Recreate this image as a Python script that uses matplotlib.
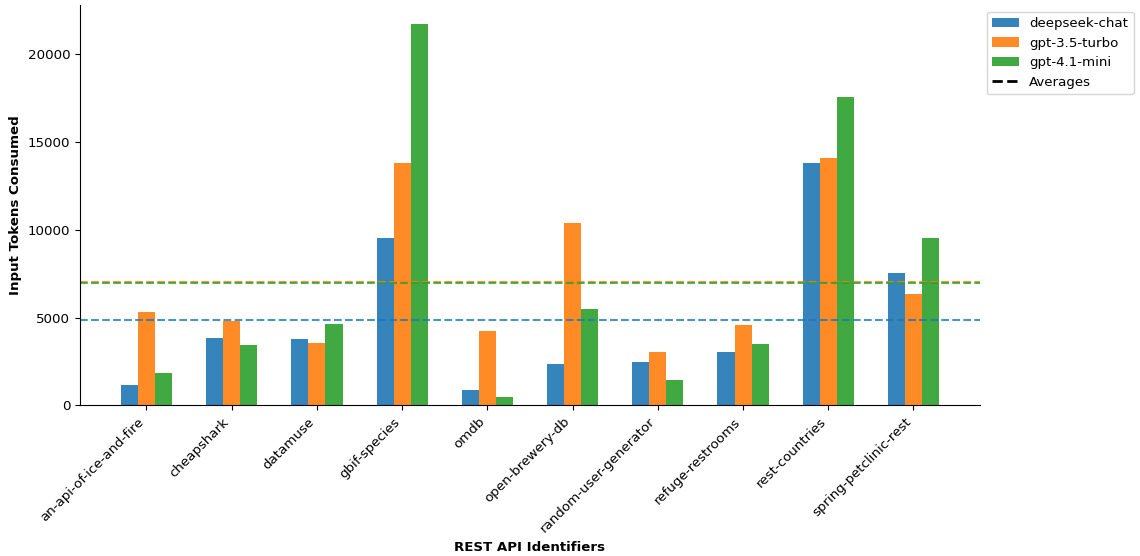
import numpy as np
import matplotlib
matplotlib.use("Agg")
import matplotlib.pyplot as plt
from matplotlib.lines import Line2D

categories = ["an-api-of-ice-and-fire", "cheapshark", "datamuse", "gbif-species", "omdb",
              "open-brewery-db", "random-user-generator", "refuge-restrooms", "rest-countries",
              "spring-petclinic-rest"]
deepseek_chat = [1170, 3850, 3795, 9560, 885, 2370, 2480, 3050, 13780, 7560]
gpt35_turbo = [5335, 4800, 3565, 13780, 4250, 10360, 3050, 4595, 14065, 6360]
gpt41_mini = [1855, 3450, 4650, 21710, 485, 5505, 1455, 3510, 17545, 9560]
models = ["deepseek-chat", "gpt-3.5-turbo", "gpt-4.1-mini"]
series = [deepseek_chat, gpt35_turbo, gpt41_mini]
colors = ["tab:blue", "tab:orange", "tab:green"]

plt.rcParams["font.size"] = 9.6

fig = plt.figure(figsize=(11.4, 5.56), dpi=100)
ax = fig.add_axes([0.0702, 0.2707, 0.7894, 0.7203])

x = np.arange(len(categories))
w = 0.2
for i, (m, vals, c) in enumerate(zip(models, series, colors)):
    ax.bar(x + (i - 1) * w, vals, w, label=m, color=c, alpha=0.9)
for vals, c in zip(series, colors):
    ax.axhline(np.mean(vals), color=c, linestyle="--", linewidth=1.5, alpha=0.8)

ax.set_xticks(x)
ax.set_xticklabels(categories, rotation=45, ha="right")
ax.set_xlabel("REST API Identifiers", fontweight="bold")
ax.set_ylabel("Input Tokens Consumed", fontweight="bold")
ax.spines["top"].set_visible(False)
ax.spines["right"].set_visible(False)

handles, labels = ax.get_legend_handles_labels()
handles.append(Line2D([0], [0], color="black", linestyle="--", linewidth=2))
labels.append("Averages")
ax.legend(handles, labels, loc="upper left", bbox_to_anchor=(1.0, 1.0))

fig.savefig("out.png", dpi=100)
